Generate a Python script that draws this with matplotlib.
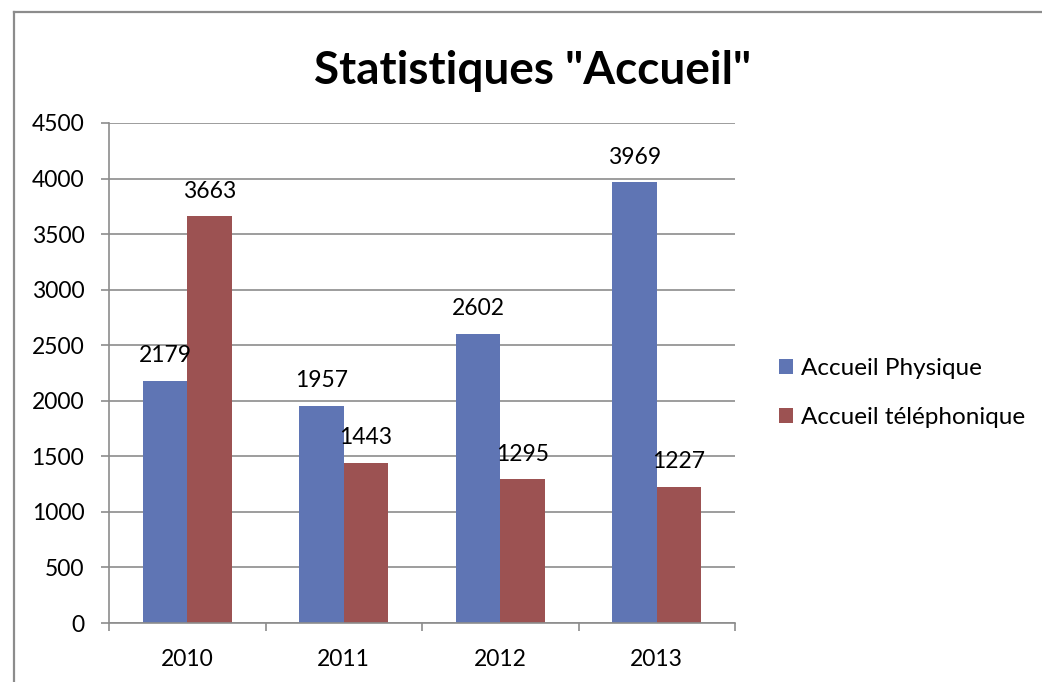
import matplotlib

matplotlib.use("Agg")
import matplotlib.pyplot as plt
from matplotlib.lines import Line2D
from matplotlib.patches import Patch
import numpy as np

# data
years = ["2010", "2011", "2012", "2013"]
physique = [2179, 1957, 2602, 3969]
telephonique = [3663, 1443, 1295, 1227]
series_names = ["Accueil Physique", "Accueil téléphonique"]
y_ticks = [0, 500, 1000, 1500, 2000, 2500, 3000, 3500, 4000, 4500]

BLUE = "#5F75B4"
RED = "#9C5252"
GRAY = "#8C8C8C"

plt.rcParams["font.family"] = ["Lato", "DejaVu Sans"]

W, H = 1042, 682
fig = plt.figure(figsize=(W / 100, H / 100), dpi=100)

# outer chart border (cropped on right and bottom)
fig.add_artist(Line2D([13.5 / W, 13.5 / W], [0, 1 - 11.5 / H], transform=fig.transFigure,
                      color=GRAY, lw=1.6))
fig.add_artist(Line2D([13.5 / W, 1], [1 - 11.5 / H, 1 - 11.5 / H], transform=fig.transFigure,
                      color=GRAY, lw=1.6))

ax = fig.add_axes([109 / W, 1 - 623 / H, (735 - 109) / W, 500 / H])

x = np.arange(len(years))
bw = 1 / 3.5
b1 = ax.bar(x - bw / 2, physique, width=bw, color=BLUE, zorder=3)
b2 = ax.bar(x + bw / 2, telephonique, width=bw, color=RED, zorder=3)

for bars, vals in ((b1, physique), (b2, telephonique)):
    for rect, v in zip(bars, vals):
        ax.annotate(str(v), (rect.get_x() + rect.get_width() / 2, v),
                    xytext=(0, 18), textcoords="offset points",
                    ha="center", va="center", fontsize=16.5, color="black", zorder=4)

ax.set_xlim(-0.5, len(years) - 0.5)
ax.set_ylim(0, 4500)
ax.set_yticks(y_ticks)
ax.set_yticklabels([str(t) for t in y_ticks])
ax.set_xticks(x)
ax.set_xticklabels(years)
ax.set_xticks(np.arange(len(years) + 1) - 0.5, minor=True)

ax.grid(axis="y", color=GRAY, lw=1.2, zorder=0)
for s in ("top", "right"):
    ax.spines[s].set_visible(False)
for s in ("left", "bottom"):
    ax.spines[s].set_color(GRAY)
    ax.spines[s].set_linewidth(1.2)
    ax.spines[s].set_zorder(5)

ax.tick_params(axis="y", length=5.8, width=1.2, color=GRAY, labelsize=16.5, pad=12)
ax.tick_params(axis="x", which="major", length=0, labelsize=16.5, pad=18.5)
ax.tick_params(axis="x", which="minor", length=5.8, width=1.2, color=GRAY)

fig.text(533 / W, 1 - 71 / H, 'Statistiques "Accueil"', ha="center", va="center",
         fontsize=33, fontweight="bold")

handles = [Patch(facecolor=BLUE), Patch(facecolor=RED)]
fig.legend(handles, series_names, loc="center left", bbox_to_anchor=(757 / W, 1 - 393 / H),
           frameon=False, fontsize=17.5, handlelength=0.6, handleheight=0.6,
           handletextpad=0.3, labelspacing=1.15)

fig.savefig("out.png", dpi=100)
